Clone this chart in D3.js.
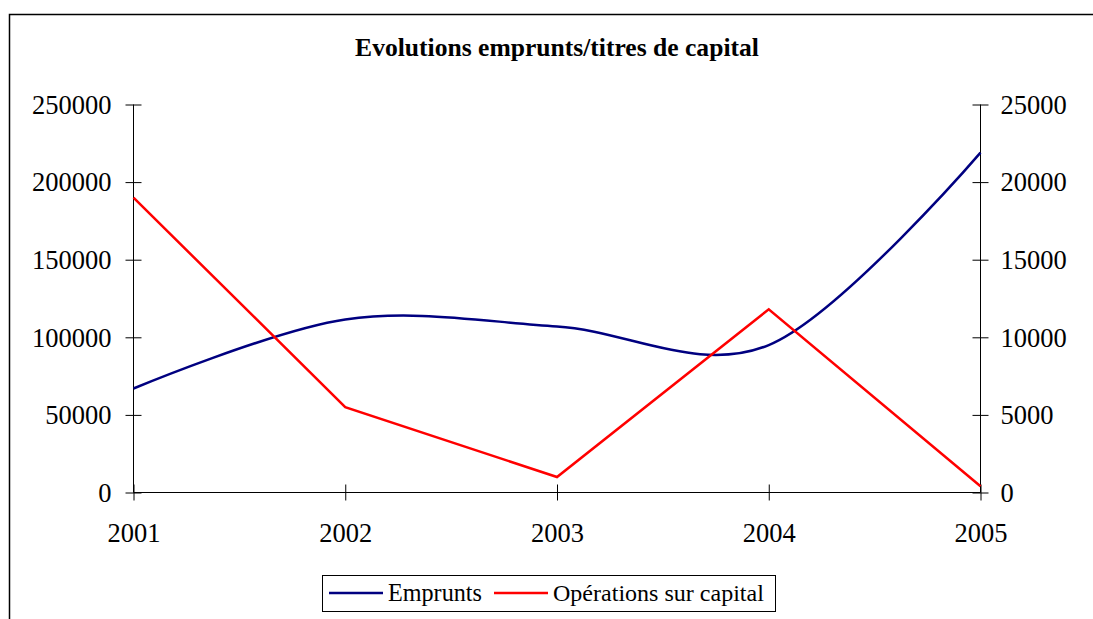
<!DOCTYPE html>
<html><head><meta charset="utf-8">
<script src="https://cdn.jsdelivr.net/npm/d3@7"></script>
<style>body{margin:0;background:#fff}svg{display:block}text{font-family:"Liberation Serif","Times New Roman",serif;fill:#000}</style>
</head><body>
<svg id="c" width="1093" height="619"></svg>
<script>
const years = [2001, 2002, 2003, 2004, 2005];
const emprunts = [67000, 111500, 107000, 95000, 219000];
const operations = [19000, 5500, 1000, 11800, 400];
const leftTicks = [0, 50000, 100000, 150000, 200000, 250000];
const rightTicks = [0, 5000, 10000, 15000, 20000, 25000];
const seriesNames = ["Emprunts", "Opérations sur capital"];
const seriesColors = ["#000080", "#ff0000"];
const title = "Evolutions emprunts/titres de capital";

const svg = d3.select("#c");
svg.append("rect").attr("x",9.5).attr("y",14.5).attr("width",1200).attr("height",700)
  .attr("fill","none").attr("stroke","#000").attr("stroke-width",1.5);

const x = d3.scalePoint().domain(years).range([133.5, 980.5]);
const yL = d3.scaleLinear().domain([0,250000]).range([492.5,104.5]);
const yR = d3.scaleLinear().domain([0,25000]).range([492.5,104.5]);

function fit(sel, target){
  const w = sel.node().getComputedTextLength();
  const fs = parseFloat(sel.attr("font-size"));
  sel.attr("font-size", fs*target/w);
}

const t = svg.append("text").attr("x",557).attr("y",56).attr("text-anchor","middle")
  .attr("font-weight","bold").attr("font-size",21).text(title);
fit(t, 404);

const FS = 26.5;
const gL = svg.append("g").attr("transform","translate(133.5,0)")
  .call(d3.axisLeft(yL).tickValues(leftTicks).tickFormat(d3.format("d")).tickSize(8).tickPadding(14));
gL.selectAll(".tick line").attr("x1",-8).attr("x2",8);
gL.selectAll(".tick text").attr("font-size",FS).attr("font-family","Liberation Serif").attr("dy","0.33em");
gL.select(".domain").attr("d","M0,492.5V104.5");

const gR = svg.append("g").attr("transform","translate(980.5,0)")
  .call(d3.axisRight(yR).tickValues(rightTicks).tickFormat(d3.format("d")).tickSize(8).tickPadding(12));
gR.selectAll(".tick line").attr("x1",-8).attr("x2",8);
gR.selectAll(".tick text").attr("font-size",FS).attr("font-family","Liberation Serif").attr("dy","0.33em");
gR.select(".domain").attr("d","M0,492.5V104.5");

const gX = svg.append("g").attr("transform","translate(0,492.5)")
  .call(d3.axisBottom(x).tickFormat(d3.format("d")).tickSize(8).tickPadding(23));
gX.selectAll(".tick line").attr("y1",-8).attr("y2",8);
gX.selectAll(".tick text").attr("font-size",FS).attr("font-family","Liberation Serif");
gX.select(".domain").attr("d","M133.5,0H980.5");
svg.selectAll(".domain").attr("stroke","#000");

const lineL = d3.line().x((d,i)=>x(years[i])).y(d=>yL(d)).curve(d3.curveCardinal.tension(0));
const lineR = d3.line().x((d,i)=>x(years[i])).y(d=>yR(d));
svg.append("path").datum(emprunts).attr("d",lineL).attr("fill","none")
  .attr("stroke",seriesColors[0]).attr("stroke-width",2.5);
svg.append("path").datum(operations).attr("d",lineR).attr("fill","none")
  .attr("stroke",seriesColors[1]).attr("stroke-width",2.5);

svg.append("rect").attr("x",322.5).attr("y",575.5).attr("width",453).attr("height",36)
  .attr("fill","#fff").attr("stroke","#000").attr("stroke-width",1);
const lx = [329, 494];
const targets = [94, 211];
seriesNames.forEach((n,i)=>{
  svg.append("line").attr("x1",lx[i]).attr("x2",lx[i]+54).attr("y1",593).attr("y2",593)
    .attr("stroke",seriesColors[i]).attr("stroke-width",2.5);
  const tt = svg.append("text").attr("x",lx[i]+59).attr("y",601).attr("font-size",21).text(n);
  fit(tt, targets[i]);
});
</script>
</body></html>
